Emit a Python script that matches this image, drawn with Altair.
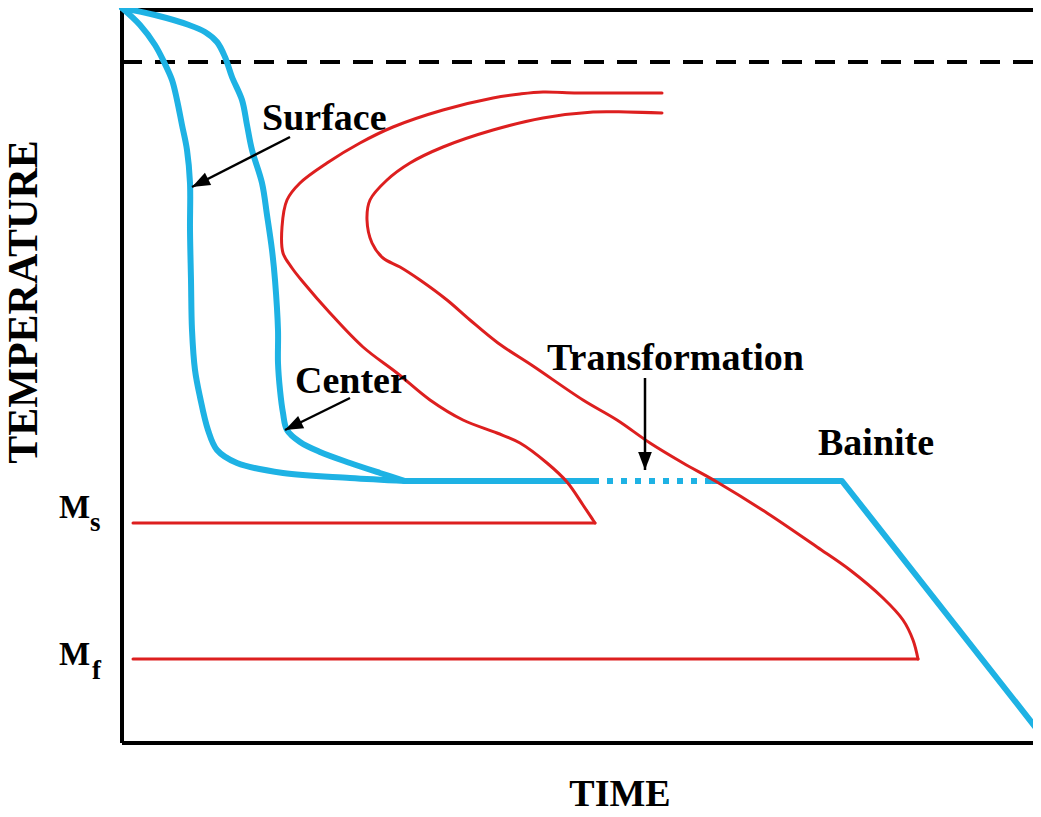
import math
import altair as alt
import pandas as pd

surface_time = [0, 18, 33, 42, 50, 55, 60, 65, 68, 68, 69, 70, 73, 78, 86, 95, 115, 161, 228, 283]
surface_temp = [735, 718, 698, 681, 663, 643, 618, 593, 560, 513, 463, 413, 373, 346, 313, 293, 280, 270, 265, 262]

center_time = [0, 33, 67, 83, 95, 103, 110, 120, 125, 130, 140, 145, 150, 153, 156, 156, 158, 161, 165,
               178, 198, 228, 258, 283]
center_temp = [735, 728, 718, 711, 701, 686, 666, 643, 618, 593, 560, 528, 493, 463, 413, 380, 353, 330, 313,
               301, 291, 280, 270, 262]

hold_time = [283, 471]
hold_temp = [262, 262]

transform_time = [471, 590]
transform_temp = [262, 262]

bainite_time = [590, 720, 918]
bainite_temp = [262, 262, 10]

start_time = [540, 498, 455, 421, 398, 371, 321, 271, 238, 205, 178, 165, 160, 161, 170, 181, 208, 241, 275,
              308, 341, 375, 398, 425, 445, 461, 471, 473]
start_temp = [650, 650, 650, 651, 649, 645, 633, 616, 600, 580, 560, 543, 516, 490, 475, 461, 430, 396, 370,
              343, 323, 310, 300, 280, 261, 238, 223, 220]

finish_time = [540, 505, 471, 421, 371, 321, 288, 265, 248, 245, 250, 261, 278, 298, 325, 348, 376, 411, 461,
               495, 528, 561, 595, 645, 695, 728, 761, 781, 791, 796]
finish_temp = [630, 631, 631, 625, 613, 596, 580, 563, 543, 523, 500, 485, 476, 463, 443, 423, 400, 377, 343,
               323, 300, 280, 261, 230, 196, 173, 145, 123, 103, 84]

ms_time = [473, 11]
ms_temp = [220, 220]
mf_time = [796, 11]
mf_temp = [84, 84]

austenite_temp = 681  # dashed line

label_text = ["Surface", "Center", "Transformation", "Bainite"]
label_time = [140, 173, 425, 696]
label_temp = [613, 350, 373, 288]

arrow_name = ["Surface", "Center", "Transformation"]
arrow_from_time = [168, 228, 523]
arrow_from_temp = [606, 345, 365]
arrow_to_time = [70, 163, 523]
arrow_to_temp = [556, 313, 273]

m_text = ["M", "M"]
m_time = [-63, -63]
m_temp = [225, 78]
sub_text = ["s", "f"]
sub_time = [-32, -30]
sub_temp = [212, 64]

TMAX = 911
YMAX = 733
W, H = 911, 733

CYAN = "#1EB2E4"
RED = "#DD1F1F"
FONT = "Liberation Serif"

xs = alt.Scale(domain=[0, TMAX], nice=False, zero=False)
ys = alt.Scale(domain=[0, YMAX], nice=False, zero=False)
X = lambda f="time": alt.X(f"{f}:Q", scale=xs, axis=None)
Y = lambda f="temp": alt.Y(f"{f}:Q", scale=ys, axis=None)


def series(name, t, v):
    return pd.DataFrame({"curve": name, "seq": range(len(t)), "time": t, "temp": v})


cyan_curve_df = pd.concat([series("Surface", surface_time, surface_temp),
                           series("Center", center_time, center_temp)])
cyan_straight_df = pd.concat([series("hold", hold_time, hold_temp),
                              series("Bainite", bainite_time, bainite_temp)])
red_curve_df = pd.concat([series("start", start_time, start_temp),
                          series("finish", finish_time, finish_temp)])
red_straight_df = pd.concat([series("Ms", ms_time, ms_temp),
                             series("Mf", mf_time, mf_temp)])
dot_df = series("transformation", transform_time, transform_temp)

frame_df = pd.DataFrame({
    "time": [0, 0, 0], "time2": [TMAX + 4, 0, TMAX + 4],
    "temp": [YMAX, 0, 0], "temp2": [YMAX, YMAX + 2, 0],
})
dash_df = pd.DataFrame({"time": [0], "time2": [TMAX + 4], "temp": [austenite_temp]})

arr_df = pd.DataFrame({"name": arrow_name, "time": arrow_from_time, "temp": arrow_from_temp,
                       "time2": arrow_to_time, "temp2": arrow_to_temp})
arr_df["ang"] = [
    (math.degrees(math.atan2(t2 - t1, v2 - v1)) + 360) % 360
    for t1, v1, t2, v2 in zip(arrow_from_time, arrow_from_temp, arrow_to_time, arrow_to_temp)
]

lab_df = pd.DataFrame({"label": label_text, "time": label_time, "temp": label_temp})
m_df = pd.DataFrame({"label": m_text, "time": m_time, "temp": m_temp})
sub_df = pd.DataFrame({"label": sub_text, "time": sub_time, "temp": sub_temp})
time_df = pd.DataFrame({"label": ["TIME"], "time": [498], "temp": [-63]})
temp_df = pd.DataFrame({"label": ["TEMPERATURE"], "time": [-85], "temp": [441]})

frame = alt.Chart(frame_df).mark_rule(color="black", strokeWidth=4).encode(
    x=X(), x2="time2:Q", y=Y(), y2="temp2:Q")
dashed = alt.Chart(dash_df).mark_rule(color="black", strokeWidth=4, strokeDash=[20, 13]).encode(
    x=X(), x2="time2:Q", y=Y())

cyan_curves = alt.Chart(cyan_curve_df).mark_line(
    color=CYAN, strokeWidth=6, strokeCap="round", strokeJoin="round", interpolate="catmull-rom"
).encode(x=X(), y=Y(), detail="curve:N", order="seq:Q")
cyan_straight = alt.Chart(cyan_straight_df).mark_line(
    color=CYAN, strokeWidth=6, strokeCap="round", strokeJoin="round"
).encode(x=X(), y=Y(), detail="curve:N", order="seq:Q")
dotted = alt.Chart(dot_df).mark_line(color=CYAN, strokeWidth=6, strokeDash=[6, 8], strokeCap="butt").encode(
    x=X(), y=Y(), order="seq:Q")
red_curves = alt.Chart(red_curve_df).mark_line(
    color=RED, strokeWidth=3, strokeJoin="round", strokeCap="round", interpolate="catmull-rom"
).encode(x=X(), y=Y(), detail="curve:N", order="seq:Q")
red_straight = alt.Chart(red_straight_df).mark_line(
    color=RED, strokeWidth=3, strokeJoin="round", strokeCap="round"
).encode(x=X(), y=Y(), detail="curve:N", order="seq:Q")

arrow_lines = alt.Chart(arr_df).mark_rule(color="black", strokeWidth=2.5).encode(
    x=X(), x2="time2:Q", y=Y(), y2="temp2:Q")
arrow_heads = alt.Chart(arr_df).mark_point(
    shape="M0,0 L-0.38,1 L0.38,1 Z", filled=True, color="black", opacity=1, size=1300
).encode(x=X("time2"), y=Y("temp2"), angle=alt.Angle("ang:Q", scale=None))

labels = alt.Chart(lab_df).mark_text(font=FONT, fontWeight="bold", fontSize=38, align="left",
                                     baseline="alphabetic", color="black").encode(
    x=X(), y=Y(), text="label:N")
m_labels = alt.Chart(m_df).mark_text(font=FONT, fontWeight="bold", fontSize=33, align="left",
                                     baseline="alphabetic", color="black").encode(
    x=X(), y=Y(), text="label:N")
sub_labels = alt.Chart(sub_df).mark_text(font=FONT, fontWeight="bold", fontSize=27, align="left",
                                         baseline="alphabetic", color="black").encode(
    x=X(), y=Y(), text="label:N")
time_label = alt.Chart(time_df).mark_text(font=FONT, fontWeight="bold", fontSize=38, align="center",
                                          baseline="alphabetic", color="black").encode(
    x=X(), y=Y(), text="label:N")
temp_label = alt.Chart(temp_df).mark_text(font=FONT, fontWeight="bold", fontSize=42, align="center",
                                          baseline="alphabetic", angle=270, color="black").encode(
    x=X(), y=Y(), text="label:N")

chart = alt.layer(
    frame, dashed, cyan_curves, cyan_straight, dotted, red_curves, red_straight,
    arrow_lines, arrow_heads, labels, m_labels, sub_labels, time_label, temp_label
).properties(
    width=W, height=H,
    autosize=alt.AutoSizeParams(type="none"),
    padding={"left": 114, "top": 2, "right": 0, "bottom": 64},
    background="white",
).configure_view(stroke=None)

chart.save("out.html", embed_options={"renderer": "svg", "actions": False})
